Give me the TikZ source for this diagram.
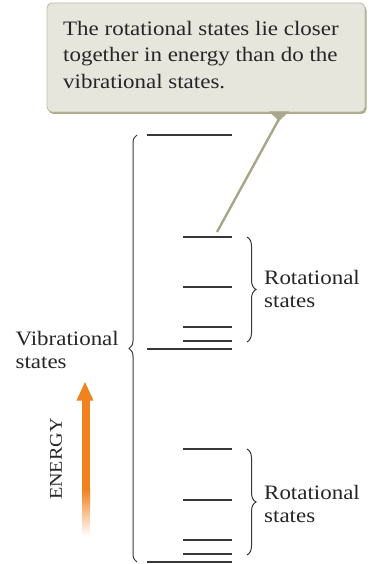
\documentclass[tikz,border=0pt]{standalone}
\usepackage{fontspec}
\setmainfont{Liberation Serif}[FakeStretch=1.12]
\usetikzlibrary{decorations.pathreplacing,shadows}
\definecolor{boxfill}{RGB}{231,230,220}
\definecolor{boxedge}{RGB}{190,188,165}
\definecolor{boxshadow}{RGB}{170,168,140}
\definecolor{pointer}{RGB}{168,166,136}
\definecolor{level}{RGB}{55,55,55}
\definecolor{energy}{RGB}{241,130,32}
\tikzset{
  lvl/.style={draw=level, line width=1.3pt},
  bracey/.style={draw=level, line width=1pt, decorate, decoration={brace, amplitude=#1}},
  lbl/.style={inner sep=0pt, align=left, font=\fontsize{20.5}{23.5}\selectfont, text=black!85},
}
\begin{document}
\begin{tikzpicture}[x=1pt,y=-1pt]
\useasboundingbox (0,0) rectangle (375,564);
% callout
\fill[boxshadow, rounded corners=5pt] (48.5,5) rectangle (366.5,114);
\node[draw=boxedge, fill=boxfill, rounded corners=5pt, line width=0.8pt, minimum width=318pt, minimum height=109pt, inner sep=0pt] (note) at (206,57.5) {};
\fill[boxshadow] (269,111.5) -- (289,111.5) -- (279,121) -- cycle;
\coordinate (ptip) at (279,119);
\node[lbl, anchor=north west, font=\fontsize{20.5}{26.5}\selectfont] (notetext) at (63,21) {The rotational states lie closer\\together in energy than do the\\vibrational states.};
% levels upper
\coordinate (v1a) at (147,135); \coordinate (v1b) at (232,135);
\coordinate (r1a) at (183,237); \coordinate (r1b) at (232,237);
\coordinate (r2a) at (183,287); \coordinate (r2b) at (232,287);
\coordinate (r3a) at (183,327); \coordinate (r3b) at (232,327);
\coordinate (r4a) at (183,341); \coordinate (r4b) at (232,341);
\coordinate (v2a) at (147,349); \coordinate (v2b) at (232,349);
% levels lower
\coordinate (s1a) at (183,449); \coordinate (s1b) at (232,449);
\coordinate (s2a) at (183,500); \coordinate (s2b) at (232,500);
\coordinate (s3a) at (183,540); \coordinate (s3b) at (232,540);
\coordinate (s4a) at (183,554); \coordinate (s4b) at (232,554);
\coordinate (v3a) at (147,562); \coordinate (v3b) at (232,562);
\foreach \p in {v1,r1,r2,r3,r4,v2,s1,s2,s3,s4,v3} \draw[lvl] (\p a) -- (\p b);
% pointer line
\coordinate (pend) at (217,232);
\draw[pointer, line width=2.4pt] (ptip) -- (pend);
% braces
\draw[bracey=8pt] (137,562) -- (137,135);
\draw[bracey=9pt] (247,237) -- (247,342);
\draw[bracey=9pt] (247,449) -- (247,555);
% labels
\node[lbl, anchor=west] (rotA) at (264,289) {Rotational\\states};
\node[lbl, anchor=west] (rotB) at (264,504) {Rotational\\states};
\node[lbl, anchor=east] (vib) at (119,350) {Vibrational\\states};
% energy arrow
\fill[energy] (82,400) rectangle (90,490);
\shade[top color=energy, bottom color=white] (82,489.5) rectangle (90,536);
\fill[energy] (76.5,400.5) -- (93.5,400.5) -- (85,382) -- cycle;
\node[lbl, rotate=90, font=\fontsize{18}{20}\selectfont] (energy) at (56,459) {ENERGY};
\end{tikzpicture}
\end{document}
